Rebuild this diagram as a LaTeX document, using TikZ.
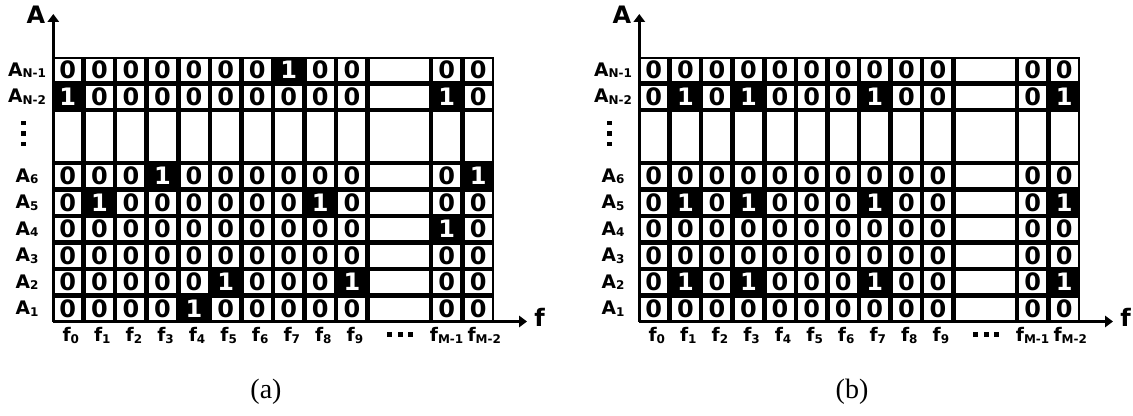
\documentclass[tikz,border=0pt]{standalone}
\usepackage{fontspec}
\setmainfont{Liberation Serif}
\newfontfamily\vsans{DejaVu Sans}
\usetikzlibrary{arrows.meta}

% 1 unit = 1 px of the layout
\def\cw{31.57}  % column pitch
\def\rh{26.5}   % row pitch
\newcommand{\lsub}[1]{\raisebox{-1.2pt}{\fontsize{9}{10}\selectfont #1}}

\tikzset{
  zcell/.style  = {fill=white, inner sep=0pt, minimum width=20.3pt, minimum height=16.5pt,
                   font=\vsans\bfseries\fontsize{18}{18}\selectfont},
  ocell/.style  = {zcell, fill=black, text=white},
  rlbl/.style   = {anchor=base, inner sep=0pt, font=\vsans\bfseries\fontsize{14}{14}\selectfont},
  clbl/.style   = {rlbl, font=\vsans\bfseries\fontsize{14}{14}\selectfont},
  axlbl/.style  = {inner sep=0pt, font=\vsans\bfseries\fontsize{18}{18}\selectfont},
  ax/.style     = {line width=2.2pt, -{Triangle[length=6pt,width=8.5pt]}},
  figcap/.style = {inner sep=0pt, font=\fontsize{21}{25}\selectfont},
}

% #1 x shift, #2 name / caption letter, #3 rows (top to bottom)
\newcommand{\fpanel}[3]{%
  \begin{scope}[shift={(#1,0)}]
    % black frame of the grid
    \fill (52,57) rectangle (494,322);
    % empty rows and columns
    \foreach \g in {0,1,2,3,4,5,6,7,8,9,12,13}
      \fill[white] ({52+\g*\cw+2.25},{57+2*\rh+2.25}) rectangle ({52+(\g+1)*\cw-2.25},{57+4*\rh-2.25});
    \foreach \k/\n in {0/1,1/1,2/2,4/1,5/1,6/1,7/1,8/1,9/1}
      \fill[white] ({52+10*\cw+2.25},{57+\k*\rh+2.25}) rectangle ({52+12*\cw-2.25},{57+(\k+\n)*\rh-2.25});
    % cells
    \foreach \row [count=\i from 0] in {#3} {
      \foreach \v [count=\j from 0] in \row {
        \ifnum\v=1 \def\cst{ocell}\else\def\cst{zcell}\fi
        \node[\cst] (#2-\i-\j) at ({52+(\j+2*(\j>9)+0.5)*\cw},{57+(\i+2*(\i>1)+0.5)*\rh}) {\v};
      }
    }
    % row and column labels
    \foreach \s [count=\i from 0] in {N-1,N-2,6,5,4,3,2,1}
      \node[rlbl] (#2-r\i) at (27,{57+(\i+2*(\i>1)+0.5)*\rh+6}) {A\lsub{\s}};
    \foreach \yy in {123,133.5,144}
      \fill ({21},{\yy-2.2}) rectangle ({26},{\yy+2.2});
    \foreach \s [count=\j from 0] in {0,1,2,3,4,5,6,7,8,9,M-1,M-2}
      \node[clbl] (#2-c\j) at ({52+(\j+2*(\j>9)+0.5)*\cw+3-3*(\j==10)+3*(\j==11)},342) {f\lsub{\s}};
    \foreach \xx in {389.5,400,410.5}
      \fill ({\xx-2.5},332) rectangle ({\xx+2.5},337);
    % axes
    \coordinate (#2-o) at (53.3,321.5);
    \coordinate (#2-yt) at (53.3,14);
    \coordinate (#2-xt) at (527,321.5);
    \draw[ax] (#2-o) -- (#2-yt);
    \draw[ax] (#2-o) -- (#2-xt);
    \node[axlbl] (#2-ya) at (36,15) {A};
    \node[axlbl, anchor=base west] (#2-xa) at (534,327) {f};
    \node[figcap] (#2-cap) at (266,392) {(#2)};
  \end{scope}}

\begin{document}
\begin{tikzpicture}[x=0.75pt, y=-0.75pt]
  \useasboundingbox (0,0) rectangle (1133,416);
  \fpanel{0}{a}{{0,0,0,0,0,0,0,1,0,0,0,0},{1,0,0,0,0,0,0,0,0,0,1,0},
                {0,0,0,1,0,0,0,0,0,0,0,1},{0,1,0,0,0,0,0,0,1,0,0,0},
                {0,0,0,0,0,0,0,0,0,0,1,0},{0,0,0,0,0,0,0,0,0,0,0,0},
                {0,0,0,0,0,1,0,0,0,1,0,0},{0,0,0,0,1,0,0,0,0,0,0,0}}
  \fpanel{586}{b}{{0,0,0,0,0,0,0,0,0,0,0,0},{0,1,0,1,0,0,0,1,0,0,0,1},
                  {0,0,0,0,0,0,0,0,0,0,0,0},{0,1,0,1,0,0,0,1,0,0,0,1},
                  {0,0,0,0,0,0,0,0,0,0,0,0},{0,0,0,0,0,0,0,0,0,0,0,0},
                  {0,1,0,1,0,0,0,1,0,0,0,1},{0,0,0,0,0,0,0,0,0,0,0,0}}
\end{tikzpicture}
\end{document}
